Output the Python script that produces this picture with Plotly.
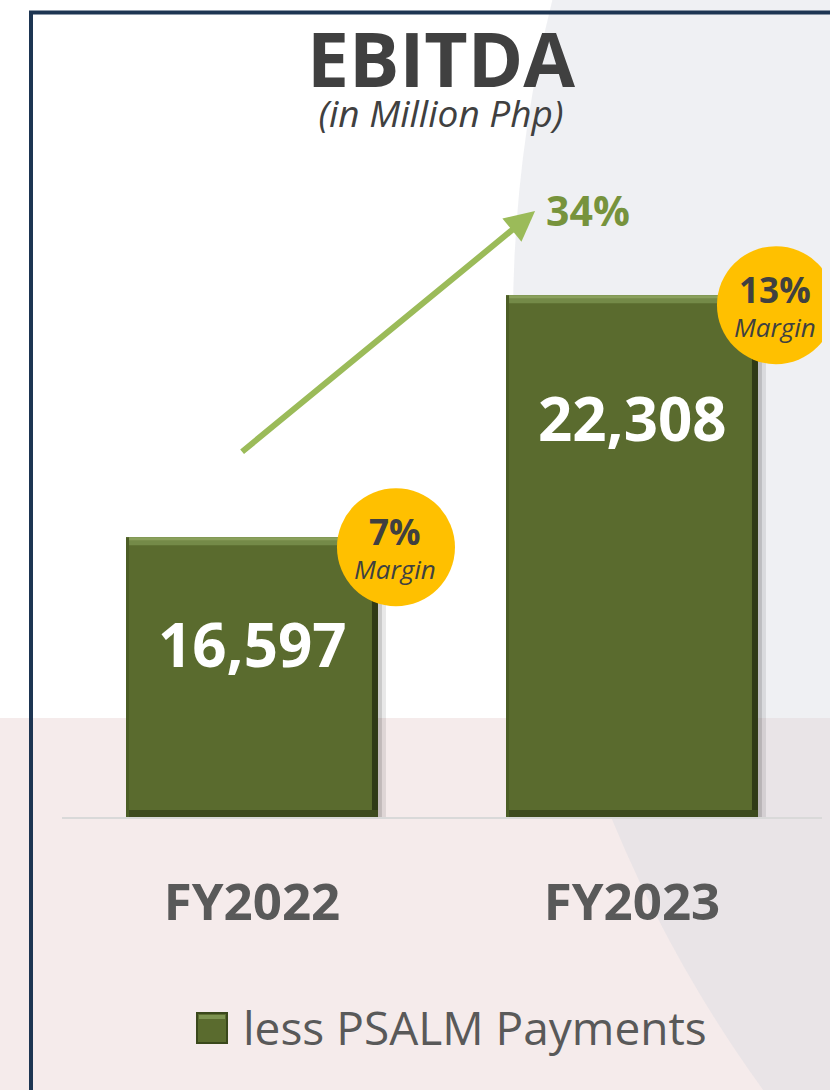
import plotly.graph_objects as go

# ---------------- data ----------------
categories = ["FY2022", "FY2023"]
ebitda = [16597, 22308]
ebitda_labels = ["16,597", "22,308"]
margins = ["7%", "13%"]
growth_label = "34%"
series_name = "less PSALM Payments"

# ---------------- style ----------------
W, H = 830, 1090
FONT = "Open Sans"
BAR = "#5a6b2e"
BASE = 10000           # axis floor (bars start below visible range)
YTOP = 25731
BAR_W = 0.663
LABEL_SHIFT = [-107, -123]   # value-label offset from bar top (px)
xs = list(range(len(categories)))


def fx(p):
    return p / W


def fy(p):
    return 1 - p / H


fig = go.Figure()
fig.add_trace(go.Bar(
    x=xs, y=ebitda, width=BAR_W, name=series_name,
    marker=dict(color=BAR, line=dict(width=0)),
    showlegend=False, hoverinfo="x+y",
))

shapes = []
# background: pink lower band
shapes.append(dict(type="rect", xref="paper", yref="paper", layer="below",
                   x0=0, x1=1, y0=0, y1=fy(718),
                   fillcolor="#f5ebeb", line=dict(width=0)))
# background: large grey circle on the right
cx, cy, r = 1826, 319, 1313
shapes.append(dict(type="circle", xref="paper", yref="paper", layer="below",
                   x0=fx(cx - r), x1=fx(cx + r), y0=fy(cy + r), y1=fy(cy - r),
                   fillcolor="rgba(215,218,225,0.4)", line=dict(width=0)))
# frame (top + left navy border)
shapes.append(dict(type="rect", xref="paper", yref="paper", layer="below",
                   x0=fx(31), x1=fx(1000), y0=fy(1300), y1=fy(12.5),
                   fillcolor="rgba(0,0,0,0)", line=dict(color="#1d3552", width=4)))

for i, v in zip(xs, ebitda):
    left, right = i - BAR_W / 2, i + BAR_W / 2
    # drop shadow
    for off, a in [(8, 0.09), (4, 0.13)]:
        shapes.append(dict(type="rect", xref="x", yref="y", layer="below",
                           xsizemode="pixel", xanchor=right, x0=0, x1=off,
                           y0=BASE, y1=v, fillcolor=f"rgba(0,0,0,{a})",
                           line=dict(width=0)))
    # bevel: top light band
    shapes.append(dict(type="rect", xref="x", yref="y", layer="above",
                       x0=left, x1=right, ysizemode="pixel", yanchor=v,
                       y0=-8, y1=0, fillcolor="#748a48", line=dict(width=0)))
    shapes.append(dict(type="rect", xref="x", yref="y", layer="above",
                       x0=left, x1=right, ysizemode="pixel", yanchor=v,
                       y0=-3, y1=0, fillcolor="#8aa05c", line=dict(width=0)))
    # bevel: right dark band
    shapes.append(dict(type="rect", xref="x", yref="y", layer="above",
                       xsizemode="pixel", xanchor=right, x0=-6, x1=0,
                       y0=BASE, y1=v, fillcolor="#2f3a16", line=dict(width=0)))
    # bevel: bottom dark band
    shapes.append(dict(type="rect", xref="x", yref="y", layer="above",
                       x0=left, x1=right, ysizemode="pixel", yanchor=BASE,
                       y0=0, y1=7, fillcolor="#3d4b1e", line=dict(width=0)))
    # bevel: left slightly dark band
    shapes.append(dict(type="rect", xref="x", yref="y", layer="above",
                       xsizemode="pixel", xanchor=left, x0=0, x1=3,
                       y0=BASE, y1=v, fillcolor="#4c5d25", line=dict(width=0)))
    # margin badge (gold circle)
    shapes.append(dict(type="circle", xref="x", yref="y", layer="above",
                       xsizemode="pixel", ysizemode="pixel",
                       xanchor=right, yanchor=v,
                       x0=18 - 59, x1=18 + 59, y0=-10 - 59, y1=-10 + 59,
                       fillcolor="#ffc000", line=dict(width=0)))

# legend swatch (manual, to match large symbol) with bevel hint
shapes.append(dict(type="rect", xref="paper", yref="paper", layer="above",
                   x0=fx(197), x1=fx(227), y0=fy(1043), y1=fy(1013),
                   fillcolor=BAR, line=dict(color="#3a481b", width=2)))
shapes.append(dict(type="rect", xref="paper", yref="paper", layer="above",
                   x0=fx(199), x1=fx(225), y0=fy(1019), y1=fy(1015),
                   fillcolor="#7d9350", line=dict(width=0)))

annotations = []
# title + subtitle (one text block)
annotations.append(dict(
    xref="paper", yref="paper", x=fx(441), y=fy(72),
    text=("<span style='font-size:75px'><b>EBITDA</b></span><br>"
          "<span style='font-size:37px'><i>(in Million Php)</i></span>"),
    showarrow=False, align="center",
    font=dict(family=FONT, size=31, color="#404040"),
    xanchor="center", yanchor="middle"))

for i, v, lab, m, sh in zip(xs, ebitda, ebitda_labels, margins, LABEL_SHIFT):
    right = i + BAR_W / 2
    # value label inside bar
    annotations.append(dict(xref="x", yref="y", x=i, y=v, yshift=sh,
                            text=f"<b>{lab}</b>", showarrow=False,
                            font=dict(family=FONT, size=60, color="#ffffff"),
                            xanchor="center", yanchor="middle"))
    # margin badge text
    annotations.append(dict(
        xref="x", yref="y", x=right, y=v, xshift=17, yshift=-10,
        text=(f"<span style='font-size:35px'><b>{m}</b></span><br>"
              "<span style='font-size:26px'><i>Margin</i></span>"),
        showarrow=False, align="center",
        font=dict(family=FONT, size=26, color="#404040"),
        xanchor="center", yanchor="middle"))

# growth arrow
annotations.append(dict(xref="x", yref="y", axref="x", ayref="y",
                        x=0.745, y=24290, ax=-0.03, ay=18585,
                        text="", showarrow=True, arrowhead=2, arrowsize=1,
                        arrowwidth=6, arrowcolor="#9bbb59", standoff=0))
annotations.append(dict(xref="x", yref="y", x=0.883, y=24316,
                        text=f"<b>{growth_label}</b>", showarrow=False,
                        font=dict(family=FONT, size=41, color="#77933c"),
                        xanchor="center", yanchor="middle"))

# manual legend text
annotations.append(dict(xref="paper", yref="paper", x=fx(241), y=fy(1027),
                        text=series_name, showarrow=False,
                        font=dict(family=FONT, size=46, color="#595959"),
                        xanchor="left", yanchor="middle"))

fig.update_layout(
    width=W, height=H,
    margin=dict(l=0, r=0, t=0, b=0),
    paper_bgcolor="#ffffff",
    plot_bgcolor="rgba(0,0,0,0)",
    showlegend=False,
    bargap=0,
    shapes=shapes,
    annotations=annotations,
    xaxis=dict(domain=[fx(62), fx(822)], range=[-0.5, 1.5],
               tickvals=xs, ticktext=[f"<b>{c}</b>" for c in categories],
               tickfont=dict(family=FONT, size=51, color="#595959"),
               showline=True, linecolor="#d9d9d9", linewidth=2,
               showgrid=False, zeroline=False, ticks="",
               ticklabelstandoff=40, fixedrange=True),
    yaxis=dict(domain=[fy(817), fy(150)], range=[BASE, YTOP],
               showticklabels=False, showgrid=False, zeroline=False,
               showline=False, fixedrange=True),
)

fig.write_html(
    "out.html",
    config={"displayModeBar": False},
    post_script="document.body.style.margin='0';document.body.style.overflow='hidden';",
)
